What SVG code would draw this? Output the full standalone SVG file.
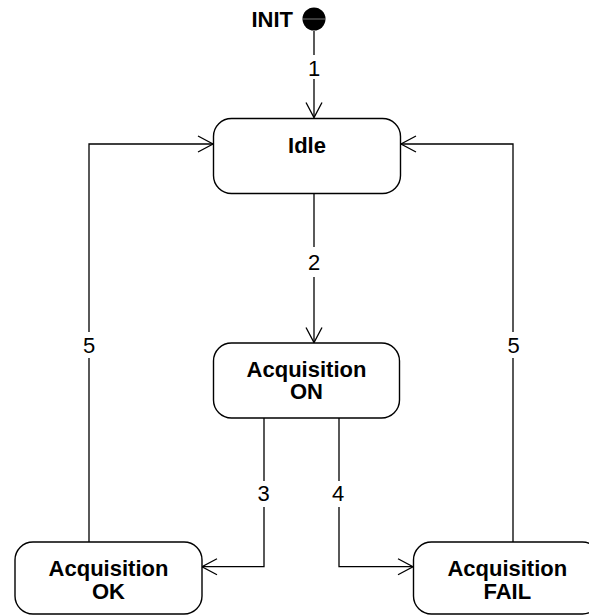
<svg xmlns="http://www.w3.org/2000/svg" width="589" height="615" viewBox="0 0 589 615">
<defs>
<style>
.node rect{fill:#fff;stroke:#000;stroke-width:1.4}
.title{font-family:"Liberation Sans",Arial,sans-serif;font-weight:bold;font-size:22px;fill:#000;text-anchor:middle}
.conn path{fill:none;stroke:#000;stroke-width:1.3}
.lbl{font-family:"Liberation Sans",Arial,sans-serif;font-size:22px;fill:#000;text-anchor:middle}
.gap{fill:#fff;stroke:none}
</style>
<marker id="open" markerUnits="userSpaceOnUse" markerWidth="20" markerHeight="20" viewBox="-17 -10 20 20" refX="0" refY="0" orient="auto">
<path d="M-15,-8 L0,0 L-15,8" fill="none" stroke="#000" stroke-width="1.3"/>
</marker>
</defs>
<rect width="589" height="615" fill="#fff"/>

<g id="connectors" class="conn">
<path d="M314,31 V117.5" marker-end="url(#open)"/>
<path d="M314,193.5 V342.5" marker-end="url(#open)"/>
<path d="M264,418 V566.7 H202" marker-end="url(#open)"/>
<path d="M339,418 V566.7 H413" marker-end="url(#open)"/>
<path d="M89,542 V144 H213" marker-end="url(#open)"/>
<path d="M513,542 V144 H401" marker-end="url(#open)"/>
<rect class="gap" x="304" y="55" width="20" height="24"/>
<rect class="gap" x="304" y="247" width="20" height="30"/>
<rect class="gap" x="254" y="481" width="20" height="26"/>
<rect class="gap" x="329" y="481" width="20" height="26"/>
<rect class="gap" x="79" y="332" width="20" height="26"/>
<rect class="gap" x="503" y="332" width="20" height="26"/>
<text class="lbl" x="314" y="76">1</text>
<text class="lbl" x="314" y="269.5">2</text>
<text class="lbl" x="263.5" y="501">3</text>
<text class="lbl" x="338" y="501">4</text>
<text class="lbl" x="89" y="352.5">5</text>
<text class="lbl" x="513.5" y="352.5">5</text>
</g>

<g id="init">
<circle cx="314" cy="19" r="11.5" fill="#000"/>
<line x1="303" y1="19" x2="325" y2="19" stroke="#777" stroke-width="1"/>
<text class="title" x="293" y="26.7" style="text-anchor:end">INIT</text>
</g>

<g id="idle" class="node">
<rect x="213.5" y="118.5" width="187" height="75" rx="18" ry="18"/>
<text class="title" x="307" y="153.3">Idle</text>
</g>

<g id="acq-on" class="node">
<rect x="213.5" y="343" width="186" height="75" rx="18" ry="18"/>
<text class="title" x="306.5" y="376.7">Acquisition</text>
<text class="title" x="306.5" y="399">ON</text>
</g>

<g id="acq-ok" class="node">
<rect x="15" y="542" width="187" height="72" rx="18" ry="18"/>
<text class="title" x="108.5" y="575.7">Acquisition</text>
<text class="title" x="108.5" y="599">OK</text>
</g>

<g id="acq-fail" class="node">
<rect x="413.5" y="542" width="187" height="72" rx="18" ry="18"/>
<text class="title" x="507.3" y="575.7">Acquisition</text>
<text class="title" x="507.3" y="599">FAIL</text>
</g>
</svg>
